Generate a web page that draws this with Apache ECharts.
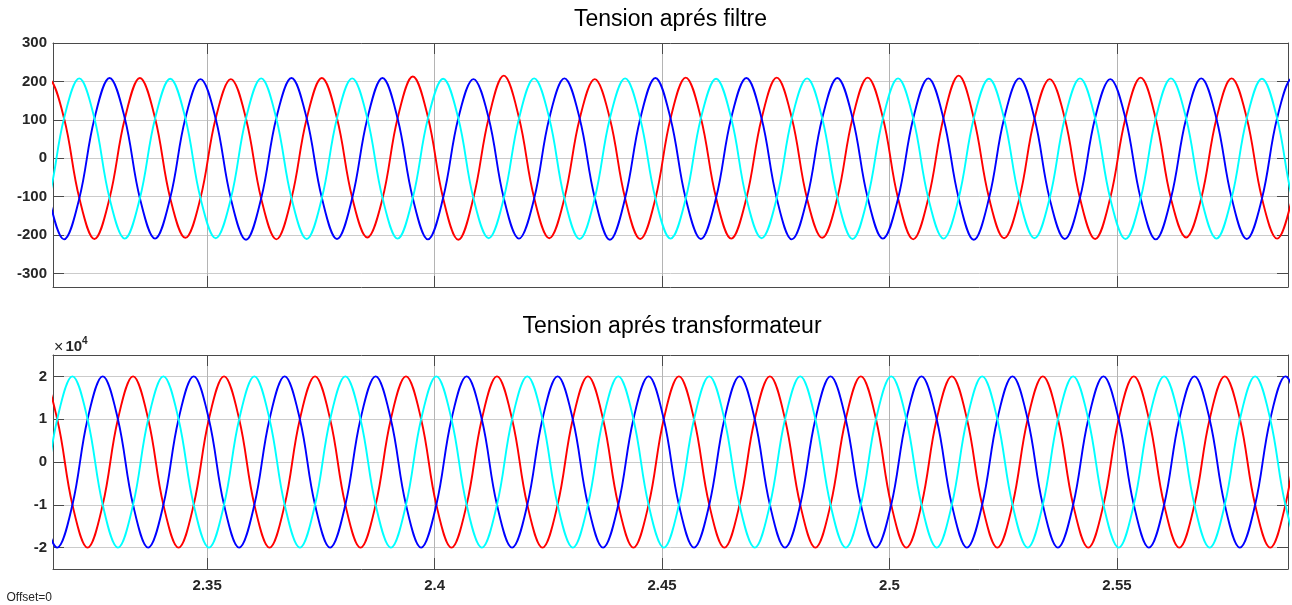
<!DOCTYPE html>
<html>
<head>
<meta charset="utf-8">
<script src="https://cdn.jsdelivr.net/npm/echarts@6/dist/echarts.min.js"></script>
<style>
  html, body { margin: 0; padding: 0; background: #ffffff; }
  #chart { width: 1292px; height: 605px; }
</style>
</head>
<body>
<div id="chart"></div>
<script>
// Time samples (s), one every 60 electrical degrees of the 50 Hz waveform
const timeFiltre = [
  2.31187, 2.31520, 2.31853, 2.32187, 2.32520, 2.32853,
  2.33187, 2.33520, 2.33853, 2.34187, 2.34520, 2.34853,
  2.35187, 2.35520, 2.35853, 2.36187, 2.36520, 2.36853,
  2.37187, 2.37520, 2.37853, 2.38187, 2.38520, 2.38853,
  2.39187, 2.39520, 2.39853, 2.40187, 2.40520, 2.40853,
  2.41187, 2.41520, 2.41853, 2.42187, 2.42520, 2.42853,
  2.43187, 2.43520, 2.43853, 2.44187, 2.44520, 2.44853,
  2.45187, 2.45520, 2.45853, 2.46187, 2.46520, 2.46853,
  2.47187, 2.47520, 2.47853, 2.48187, 2.48520, 2.48853,
  2.49187, 2.49520, 2.49853, 2.50187, 2.50520, 2.50853,
  2.51187, 2.51520, 2.51853, 2.52187, 2.52520, 2.52853,
  2.53187, 2.53520, 2.53853, 2.54187, 2.54520, 2.54853,
  2.55187, 2.55520, 2.55853, 2.56187, 2.56520, 2.56853,
  2.57187, 2.57520, 2.57853, 2.58187, 2.58520, 2.58853,
  2.59187, 2.59520
];

// Phase voltages after the filter (V)
const filtreA = [
  103, 205, 104, -103, -210, -104,
  102, 209, 105, -104, -207, -103,
  104, 206, 103, -105, -211, -104,
  103, 209, 104, -102, -206, -105,
  105, 213, 107, -104, -212, -103,
  104, 215, 106, -103, -208, -104,
  102, 206, 103, -104, -210, -105,
  104, 210, 105, -103, -209, -104,
  103, 210, 104, -105, -207, -103,
  104, 210, 106, -104, -211, -104,
  105, 215, 104, -103, -208, -105,
  103, 206, 104, -104, -210, -103,
  104, 210, 103, -105, -206, -104,
  103, 208, 105, -104, -209, -103,
  104, 208
];
const filtreB = [
  104, -103, -211, -105, 103, 209,
  105, -104, -209, -103, 104, 206,
  103, -105, -212, -104, 105, 209,
  104, -103, -210, -104, 103, 209,
  103, -104, -211, -103, 104, 206,
  105, -104, -209, -105, 104, 208,
  104, -103, -212, -104, 103, 209,
  103, -105, -210, -103, 105, 209,
  104, -104, -211, -104, 104, 209,
  105, -103, -209, -105, 103, 208,
  103, -104, -212, -104, 104, 208,
  104, -105, -210, -103, 105, 206,
  104, -104, -211, -104, 103, 208,
  103, -103, -210, -105, 104, 208,
  104, -104
];
const filtreC = [
  -208, -104, 104, 208, 104, -104,
  -209, -104, 103, 207, 104, -104,
  -208, -105, 104, 208, 103, -104,
  -210, -104, 104, 208, 104, -103,
  -209, -103, 104, 207, 104, -104,
  -208, -104, 103, 208, 104, -105,
  -210, -104, 104, 208, 103, -104,
  -209, -105, 104, 207, 104, -104,
  -208, -104, 104, 208, 104, -103,
  -210, -103, 103, 208, 104, -104,
  -209, -104, 104, 207, 103, -104,
  -208, -104, 104, 208, 104, -105,
  -210, -105, 104, 208, 104, -104,
  -209, -104, 103, 207, 104, -104,
  -208, -104
];

const timeTransfo = [
  2.31037, 2.31370, 2.31703, 2.32037, 2.32370, 2.32703,
  2.33037, 2.33370, 2.33703, 2.34037, 2.34370, 2.34703,
  2.35037, 2.35370, 2.35703, 2.36037, 2.36370, 2.36703,
  2.37037, 2.37370, 2.37703, 2.38037, 2.38370, 2.38703,
  2.39037, 2.39370, 2.39703, 2.40037, 2.40370, 2.40703,
  2.41037, 2.41370, 2.41703, 2.42037, 2.42370, 2.42703,
  2.43037, 2.43370, 2.43703, 2.44037, 2.44370, 2.44703,
  2.45037, 2.45370, 2.45703, 2.46037, 2.46370, 2.46703,
  2.47037, 2.47370, 2.47703, 2.48037, 2.48370, 2.48703,
  2.49037, 2.49370, 2.49703, 2.50037, 2.50370, 2.50703,
  2.51037, 2.51370, 2.51703, 2.52037, 2.52370, 2.52703,
  2.53037, 2.53370, 2.53703, 2.54037, 2.54370, 2.54703,
  2.55037, 2.55370, 2.55703, 2.56037, 2.56370, 2.56703,
  2.57037, 2.57370, 2.57703, 2.58037, 2.58370, 2.58703,
  2.59037, 2.59370
];

// Phase voltages after the transformer (V)
const transfoA = [
  10000, 20000, 10000, -10000, -20000, -10000,
  10000, 20000, 10000, -10000, -20000, -10000,
  10000, 20000, 10000, -10000, -20000, -10000,
  10000, 20000, 10000, -10000, -20000, -10000,
  10000, 20000, 10000, -10000, -20000, -10000,
  10000, 20000, 10000, -10000, -20000, -10000,
  10000, 20000, 10000, -10000, -20000, -10000,
  10000, 20000, 10000, -10000, -20000, -10000,
  10000, 20000, 10000, -10000, -20000, -10000,
  10000, 20000, 10000, -10000, -20000, -10000,
  10000, 20000, 10000, -10000, -20000, -10000,
  10000, 20000, 10000, -10000, -20000, -10000,
  10000, 20000, 10000, -10000, -20000, -10000,
  10000, 20000, 10000, -10000, -20000, -10000,
  10000, 20000
];
const transfoB = [
  10000, -10000, -20000, -10000, 10000, 20000,
  10000, -10000, -20000, -10000, 10000, 20000,
  10000, -10000, -20000, -10000, 10000, 20000,
  10000, -10000, -20000, -10000, 10000, 20000,
  10000, -10000, -20000, -10000, 10000, 20000,
  10000, -10000, -20000, -10000, 10000, 20000,
  10000, -10000, -20000, -10000, 10000, 20000,
  10000, -10000, -20000, -10000, 10000, 20000,
  10000, -10000, -20000, -10000, 10000, 20000,
  10000, -10000, -20000, -10000, 10000, 20000,
  10000, -10000, -20000, -10000, 10000, 20000,
  10000, -10000, -20000, -10000, 10000, 20000,
  10000, -10000, -20000, -10000, 10000, 20000,
  10000, -10000, -20000, -10000, 10000, 20000,
  10000, -10000
];
const transfoC = [
  -20000, -10000, 10000, 20000, 10000, -10000,
  -20000, -10000, 10000, 20000, 10000, -10000,
  -20000, -10000, 10000, 20000, 10000, -10000,
  -20000, -10000, 10000, 20000, 10000, -10000,
  -20000, -10000, 10000, 20000, 10000, -10000,
  -20000, -10000, 10000, 20000, 10000, -10000,
  -20000, -10000, 10000, 20000, 10000, -10000,
  -20000, -10000, 10000, 20000, 10000, -10000,
  -20000, -10000, 10000, 20000, 10000, -10000,
  -20000, -10000, 10000, 20000, 10000, -10000,
  -20000, -10000, 10000, 20000, 10000, -10000,
  -20000, -10000, 10000, 20000, 10000, -10000,
  -20000, -10000, 10000, 20000, 10000, -10000,
  -20000, -10000, 10000, 20000, 10000, -10000,
  -20000, -10000
];

// Axis ticks
const timeTicks = [2.35, 2.4, 2.45, 2.5, 2.55];
const filtreTicks = [-300, -200, -100, 0, 100, 200, 300];
const transfoTicks = [-20000, -10000, 0, 10000, 20000];
const titles = ['Tension aprés filtre', 'Tension aprés transformateur'];

const T_MIN = 2.3161, T_MAX = 2.5876;
const FONT = '"Liberation Sans", Arial, Helvetica, sans-serif';
const AXIS_COLOR = '#4a4a4a';
const HGRID_COLOR = '#cbcbcb';
const VGRID_COLOR = '#b4b4b4';
const LABEL_COLOR = '#262626';

function timeAxis(gridIndex, position, withLabels, withGrid) {
  return {
    type: 'value', gridIndex, position, min: T_MIN, max: T_MAX,
    axisLine: { show: true, onZero: false, lineStyle: { color: AXIS_COLOR, width: 1 } },
    axisTick: { show: true, inside: true, length: 11, customValues: timeTicks,
                lineStyle: { color: AXIS_COLOR, width: 1 } },
    axisLabel: { show: withLabels, customValues: timeTicks, margin: 9,
                 color: LABEL_COLOR, fontFamily: FONT, fontSize: 15, fontWeight: 'bold',
                 formatter: v => String(+v.toFixed(2)) },
    splitLine: { show: withGrid, lineStyle: { color: VGRID_COLOR, width: 1 } }
  };
}

function valueAxis(gridIndex, position, min, max, ticks, withLabels, withGrid, fmt) {
  return {
    type: 'value', gridIndex, position, min, max,
    axisLine: { show: true, onZero: false, lineStyle: { color: AXIS_COLOR, width: 1 } },
    axisTick: { show: true, inside: true, length: 11, customValues: ticks,
                lineStyle: { color: AXIS_COLOR, width: 1 } },
    axisLabel: { show: withLabels, customValues: ticks, margin: 6,
                 color: LABEL_COLOR, fontFamily: FONT, fontSize: 15, fontWeight: 'bold',
                 formatter: fmt },
    splitLine: { show: withGrid, lineStyle: { color: HGRID_COLOR, width: 1 } }
  };
}

function phase(name, t, v, color, xi, yi) {
  return {
    name, type: 'line', xAxisIndex: xi, yAxisIndex: yi,
    data: t.map((x, i) => [x, v[i]]),
    showSymbol: false, symbol: 'none', smooth: 0.38, clip: true,
    lineStyle: { color, width: 1.9 }, itemStyle: { color },
    emphasis: { disabled: true }, animation: false
  };
}

const chart = echarts.init(document.getElementById('chart'), null, { renderer: 'canvas' });
chart.setOption({
  backgroundColor: '#ffffff',
  animation: false,
  grid: [
    { left: 53, top: 43, width: 1235, height: 244, outerBoundsMode: 'none', containLabel: false },
    { left: 53, top: 355, width: 1235, height: 214, outerBoundsMode: 'none', containLabel: false }
  ],
  xAxis: [
    timeAxis(0, 'bottom', false, true),
    timeAxis(0, 'top', false, false),
    timeAxis(1, 'bottom', true, true),
    timeAxis(1, 'top', false, false)
  ],
  yAxis: [
    valueAxis(0, 'left', -335, 300, filtreTicks, true, true, v => String(v)),
    valueAxis(0, 'right', -335, 300, filtreTicks, false, false, v => String(v)),
    valueAxis(1, 'left', -25000, 25000, transfoTicks, true, true, v => String(Math.round(v / 10000))),
    valueAxis(1, 'right', -25000, 25000, transfoTicks, false, false, v => String(v))
  ],
  series: [
    phase('Va filtre', timeFiltre, filtreA, '#ff0000', 0, 0),
    phase('Vb filtre', timeFiltre, filtreB, '#0000ff', 0, 0),
    phase('Vc filtre', timeFiltre, filtreC, '#00ffff', 0, 0),
    phase('Va transfo', timeTransfo, transfoA, '#ff0000', 2, 2),
    phase('Vb transfo', timeTransfo, transfoB, '#0000ff', 2, 2),
    phase('Vc transfo', timeTransfo, transfoC, '#00ffff', 2, 2)
  ],
  graphic: [
    { type: 'text', x: 670.5, y: 20, silent: true,
      style: { text: titles[0], fill: '#000000', font: '23px ' + FONT,
               textAlign: 'center', textVerticalAlign: 'middle' } },
    { type: 'text', x: 672, y: 326.5, silent: true,
      style: { text: titles[1], fill: '#000000', font: '23px ' + FONT,
               textAlign: 'center', textVerticalAlign: 'middle' } },
    { type: 'text', x: 54, y: 347.5, silent: true,
      style: { text: '×', fill: LABEL_COLOR, font: '16px ' + FONT,
               textAlign: 'left', textVerticalAlign: 'middle' } },
    { type: 'text', x: 65.5, y: 347, silent: true,
      style: { text: '10', fill: LABEL_COLOR, font: 'bold 15px ' + FONT,
               textAlign: 'left', textVerticalAlign: 'middle' } },
    { type: 'text', x: 82, y: 341, silent: true,
      style: { text: '4', fill: LABEL_COLOR, font: 'bold 10px ' + FONT,
               textAlign: 'left', textVerticalAlign: 'middle' } },
    { type: 'text', x: 6.5, y: 598, silent: true,
      style: { text: 'Offset=0', fill: '#262626', font: '12px ' + FONT,
               textAlign: 'left', textVerticalAlign: 'middle' } }
  ]
});
</script>
</body>
</html>
